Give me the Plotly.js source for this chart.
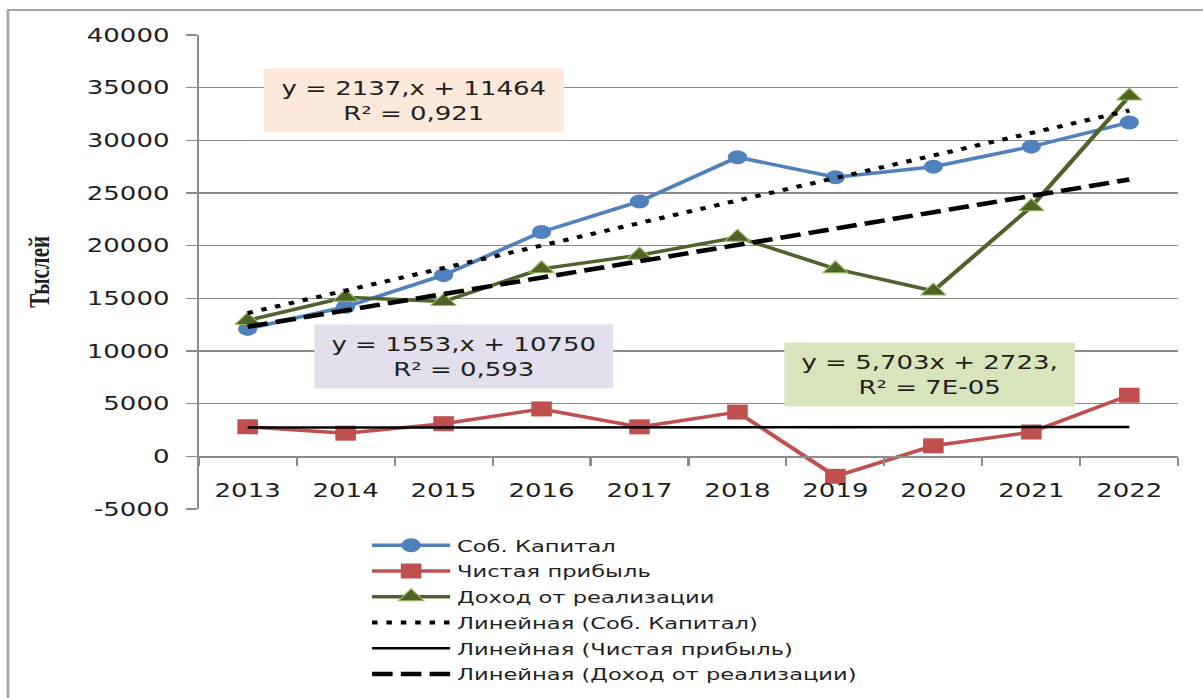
<!DOCTYPE html>
<html>
<head>
<meta charset="utf-8">
<script src="https://cdn.plot.ly/plotly-3.0.1.min.js"></script>
<style>
  html, body { margin: 0; padding: 0; background: #ffffff; overflow: hidden; }
  #wrap { width: 1203px; height: 698px; overflow: hidden; }
  #chart { width: 878px; height: 698px; transform: scaleX(1.3701); transform-origin: 0 0; }
</style>
</head>
<body>
<div id="wrap"><div id="chart"></div></div>
<script>
// ---- data ----
const years = ['2013', '2014', '2015', '2016', '2017', '2018', '2019', '2020', '2021', '2022'];
const equity = [12100, 14200, 17200, 21300, 24200, 28400, 26500, 27500, 29400, 31700];
const netProfit = [2800, 2200, 3100, 4500, 2800, 4200, -1900, 1000, 2300, 5800];
const salesIncome = [12900, 15100, 14700, 17800, 19100, 20800, 17800, 15700, 23700, 34200];
const seriesNames = ['Соб. Капитал', 'Чистая прибыль', 'Доход от реализации'];
// trendline equations shown on the chart (y = slope * n + intercept, n = 1..10)
const trendSlopes = [2137, 5.703, 1553];
const trendIntercepts = [11464, 2723, 10750];
const trendLabels = [
  'y = 2137,x + 11464<br>R² = 0,921',
  'y = 5,703x + 2723,<br>R² = 7E-05',
  'y = 1553,x + 10750<br>R² = 0,593'
];
const yTickVals = [-5000, 0, 5000, 10000, 15000, 20000, 25000, 30000, 35000, 40000];
const yTickText = yTickVals.map(v => String(v));
const yAxisTitle = 'Тыслей';

const trendY = k => years.map((_, i) => trendSlopes[k] * (i + 1) + trendIntercepts[k]);

const FONT = 'DejaVu Sans, Verdana, sans-serif';
const TXT = '#1f1f1f';
const GRID = '#8c8c8c';

const traces = [
  {
    x: years, y: equity, name: seriesNames[0], type: 'scatter', mode: 'lines+markers', legendgroup: 'g1',
    line: { color: '#4F81BD', width: 3.5 },
    marker: { symbol: 'circle', size: 14, color: '#4F81BD' }
  },
  {
    x: years, y: netProfit, name: seriesNames[1], type: 'scatter', mode: 'lines+markers', legendgroup: 'g2',
    line: { color: '#C0504D', width: 3.5 },
    marker: { symbol: 'square', size: 15, color: '#C0504D' }
  },
  {
    x: years, y: salesIncome, name: seriesNames[2], type: 'scatter', mode: 'lines+markers', legendgroup: 'g3',
    line: { color: '#4F6228', width: 3.5 },
    marker: { symbol: 'triangle-up', size: 16, color: '#4F6228', line: { color: '#9BBB59', width: 1 } }
  },
  {
    x: years, y: trendY(0), name: 'Линейная (' + seriesNames[0] + ')', type: 'scatter', mode: 'lines', legendgroup: 'g4',
    line: { color: '#000000', width: 4, dash: '4px,6.5px' }
  },
  {
    x: years, y: trendY(1), name: 'Линейная (' + seriesNames[1] + ')', type: 'scatter', mode: 'lines', legendgroup: 'g5',
    line: { color: '#000000', width: 2.5 }
  },
  {
    x: years, y: trendY(2), name: 'Линейная (' + seriesNames[2] + ')', type: 'scatter', mode: 'lines', legendgroup: 'g6',
    line: { color: '#000000', width: 4.5, dash: '15px,6px' }
  }
];

const boxFont = { family: FONT, size: 19, color: TXT };
const layout = {
  width: 878, height: 698,
  margin: { l: 145, r: 18, t: 35, b: 189 },
  paper_bgcolor: '#ffffff', plot_bgcolor: '#ffffff',
  font: { family: FONT, color: TXT },
  showlegend: true,
  legend: {
    x: 0.17, xanchor: 'left', yref: 'container', y: 0.2436, yanchor: 'top',
    orientation: 'v', font: { family: FONT, size: 16.5, color: TXT },
    itemwidth: 57, bgcolor: 'rgba(0,0,0,0)', borderwidth: 0,
    traceorder: 'grouped', tracegroupgap: 1.3
  },
  xaxis: {
    type: 'category', range: [-0.5, 9.5],
    anchor: 'free', position: 1 / 9,
    showline: true, linecolor: GRID, linewidth: 1.5,
    ticks: 'outside', tickson: 'boundaries', ticklen: 8, tickwidth: 1.5, tickcolor: GRID,
    showgrid: false, zeroline: false,
    tickfont: { family: FONT, size: 19, color: TXT },
    ticklabelstandoff: 16
  },
  yaxis: {
    range: [-5000, 40000], tickmode: 'array', tickvals: yTickVals, ticktext: yTickText,
    showgrid: true, gridcolor: GRID, gridwidth: 1.5, zeroline: false,
    showline: true, linecolor: GRID, linewidth: 1.5,
    ticks: 'outside', ticklen: 8, tickwidth: 1.5, tickcolor: GRID,
    tickfont: { family: FONT, size: 19, color: TXT },
    ticklabelstandoff: 8
  },
  annotations: [
    {
      xref: 'paper', yref: 'paper', x: 0.2189, y: 0.8618, xanchor: 'center', yanchor: 'middle',
      text: trendLabels[0], showarrow: false, font: boxFont, bgcolor: '#FDE9D9',
      width: 218, height: 63, borderpad: 0, align: 'center'
    },
    {
      xref: 'paper', yref: 'paper', x: 0.7463, y: 0.2838, xanchor: 'center', yanchor: 'middle',
      text: trendLabels[1], showarrow: false, font: boxFont, bgcolor: '#D8E4BC',
      width: 211, height: 63, borderpad: 0, align: 'center'
    },
    {
      xref: 'paper', yref: 'paper', x: 0.2709, y: 0.3217, xanchor: 'center', yanchor: 'middle',
      text: trendLabels[2], showarrow: false, font: boxFont, bgcolor: '#E4DFEC',
      width: 217, height: 63, borderpad: 0, align: 'center'
    },
    {
      xref: 'paper', yref: 'paper', x: -0.1625, y: 0.5, xanchor: 'center', yanchor: 'middle',
      text: '<b>' + yAxisTitle + '</b>', textangle: -90, showarrow: false,
      font: { family: 'Liberation Serif, Times New Roman, serif', size: 21, color: TXT }
    }
  ],
  shapes: [
    {
      type: 'rect', xref: 'paper', yref: 'paper', x0: -0.1947, x1: 1.3, y0: -0.6, y1: 1.0527,
      line: { color: '#a6a6a6', width: 2 }, fillcolor: 'rgba(0,0,0,0)', layer: 'below'
    }
  ]
};

Plotly.newPlot('chart', traces, layout, { staticPlot: true, displayModeBar: false });
</script>
</body>
</html>
